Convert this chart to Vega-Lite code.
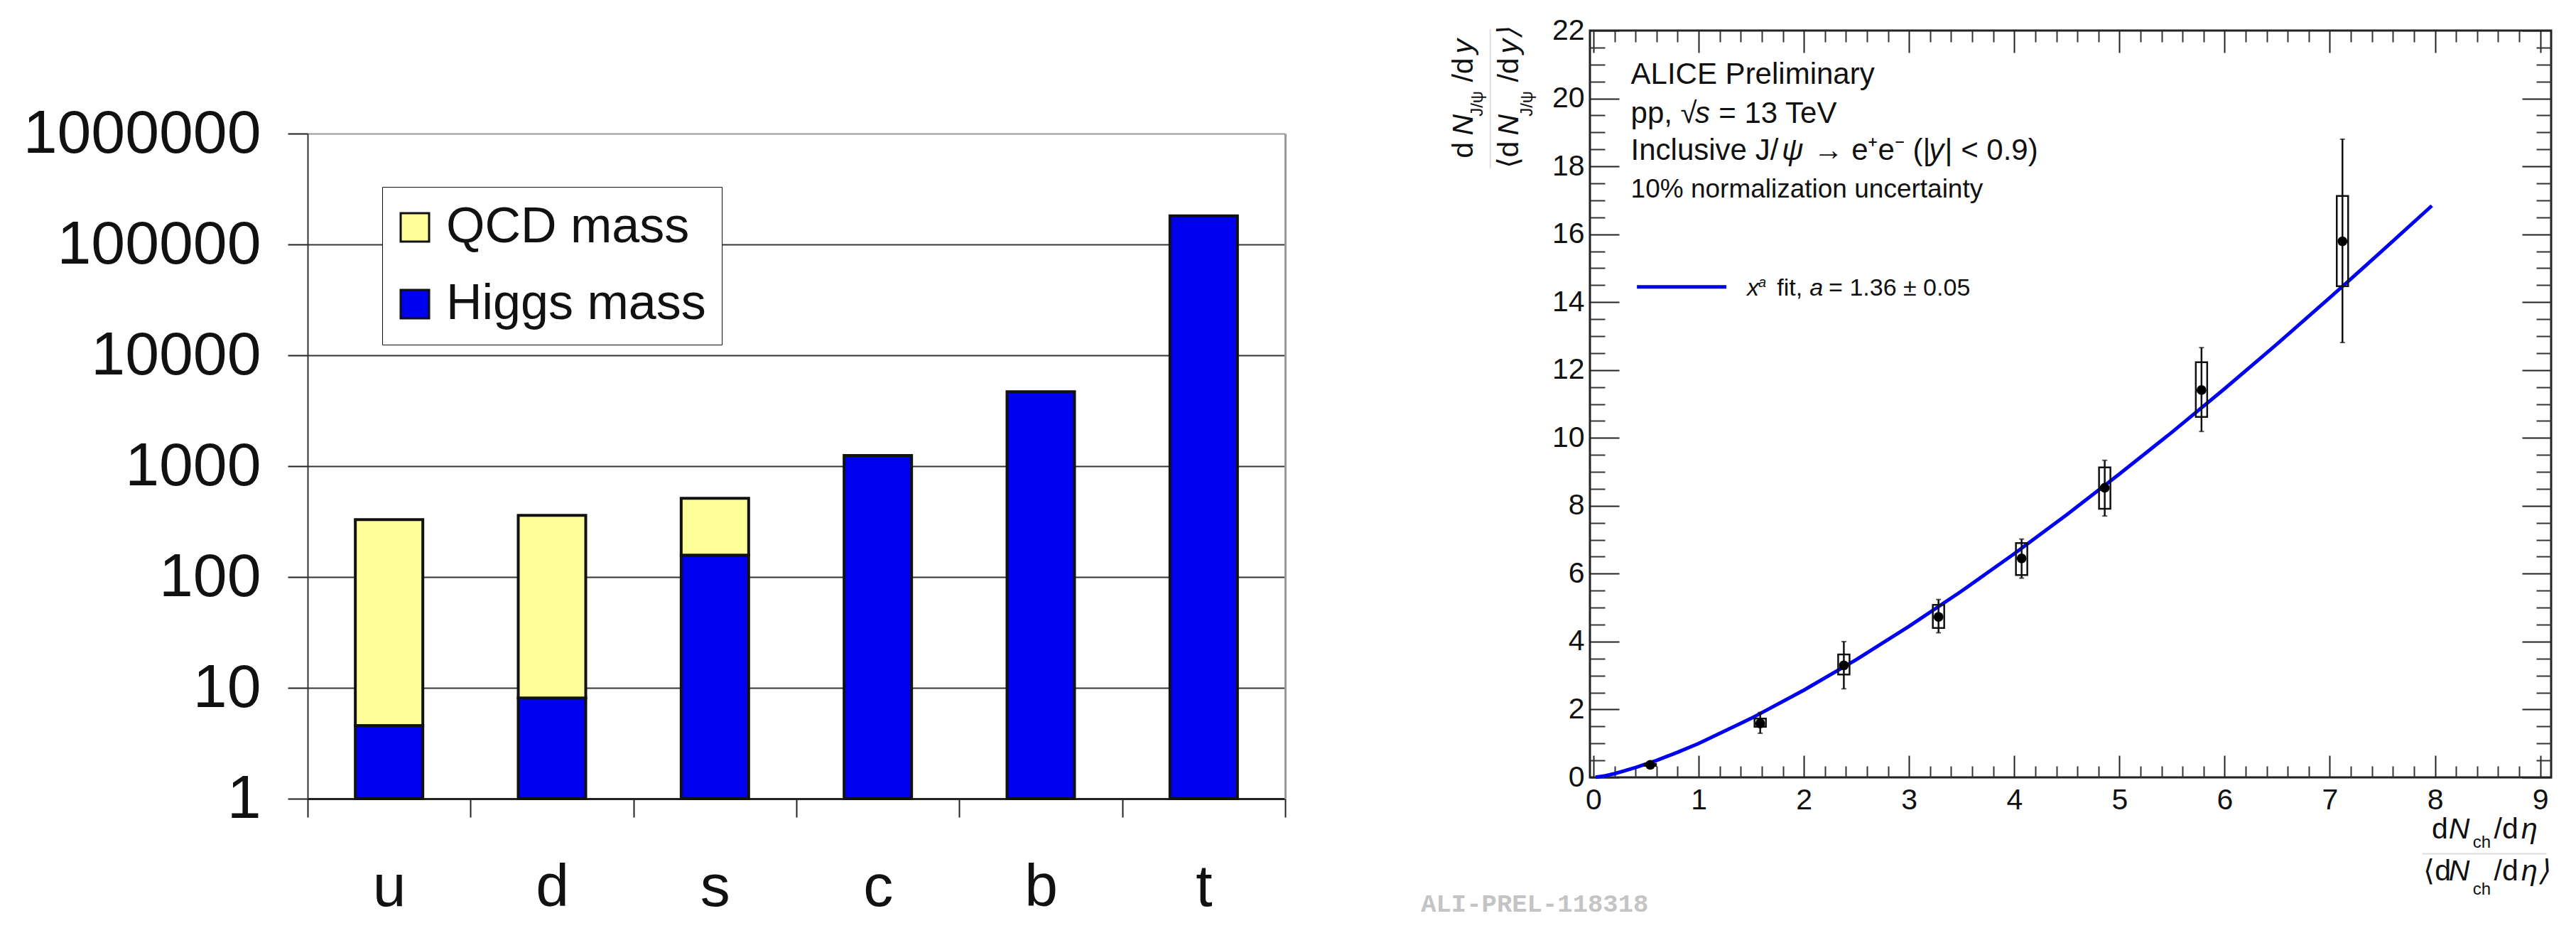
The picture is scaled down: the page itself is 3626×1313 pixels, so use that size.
{"$schema":"https://vega.github.io/schema/vega-lite/v6.json","background":"white","padding":{"left":32,"top":20,"right":20,"bottom":10},"spacing":429,"bounds":"flush","config":{"font":"Liberation Sans","text":{"font":"Liberation Sans","align":"left","baseline":"alphabetic","color":"#111"}},"hconcat":[{"width":1376,"height":1081,"view":{"stroke":null},"data":{"values":[{"quark":"u","part":"QCD mass","low":4.56,"high":329},{"quark":"d","part":"QCD mass","low":8.07,"high":360},{"quark":"s","part":"QCD mass","low":157,"high":513},{"quark":"u","part":"Higgs mass","low":1,"high":4.56},{"quark":"d","part":"Higgs mass","low":1,"high":8.07},{"quark":"s","part":"Higgs mass","low":1,"high":157},{"quark":"c","part":"Higgs mass","low":1,"high":1250},{"quark":"b","part":"Higgs mass","low":1,"high":4700},{"quark":"t","part":"Higgs mass","low":1,"high":181000}]},"resolve":{"axis":{"y":"independent"}},"encoding":{"x":{"field":"quark","type":"nominal","sort":["u","d","s","c","b","t"],"scale":{"paddingInner":0,"paddingOuter":0},"axis":{"title":null,"labelAngle":0,"labelFontSize":84,"labelColor":"#111","labelPadding":58,"tickBand":"extent","tickSize":26,"tickColor":"#222","tickWidth":2,"domainColor":"#222","domainWidth":3}},"y":{"field":"high","type":"quantitative","scale":{"type":"log","domain":[1,1000000],"range":[1081,145],"nice":false},"axis":null},"y2":{"field":"low"},"color":{"field":"part","type":"nominal","scale":{"domain":["QCD mass","Higgs mass"],"range":["#ffff99","#0000f0"]},"legend":{"orient":"none","legendX":105,"legendY":220,"title":null,"labelFontSize":70,"labelFont":"Liberation Sans","labelColor":"#111","labelLimit":500,"labelOffset":9,"symbolOffset":-11,"symbolType":"square","symbolSize":1600,"symbolStrokeColor":"#111","symbolStrokeWidth":3,"rowPadding":38,"padding":22,"strokeColor":"#111","fillColor":"white"}}},"layer":[{"transform":[{"filter":"datum.part === 'QCD mass'"}],"mark":{"type":"bar","width":95,"stroke":"#111","strokeWidth":4},"encoding":{"y":{"field":"high","type":"quantitative","scale":{"type":"log","domain":[1,1000000],"range":[1081,145],"nice":false},"axis":{"title":null,"values":[1,10,100,1000,10000,100000,1000000],"format":"d","labelFontSize":86,"labelLimit":600,"labelColor":"#111","labelPadding":38,"tickSize":28,"tickColor":"#222","tickWidth":2,"domainColor":"#333","domainWidth":2,"grid":true,"gridWidth":2,"gridColor":{"condition":{"test":"datum.value === 1000000","value":"#999999"},"value":"#333333"}}}}},{"transform":[{"filter":"datum.part === 'Higgs mass'"}],"mark":{"type":"bar","width":95,"stroke":"#111","strokeWidth":4},"encoding":{"y":{"field":"high","type":"quantitative","scale":{"type":"log","domain":[1,1000000],"range":[1081,145],"nice":false},"axis":{"orient":"right","title":null,"labels":false,"ticks":false,"grid":false,"domainColor":"#999999","domainWidth":3}}}}]},{"width":1353,"height":1051,"view":{"stroke":"#222","strokeWidth":3},"resolve":{"axis":{"x":"independent","y":"independent"}},"encoding":{"x":{"field":"x","type":"quantitative","scale":{"domain":[0,9.07],"nice":false,"zero":false},"axis":null},"y":{"field":"y","type":"quantitative","scale":{"domain":[0,22],"nice":false,"zero":false},"axis":null}},"layer":[{"data":{"values":[{"x":0.02,"y":0.005},{"x":0.1,"y":0.04},{"x":0.2,"y":0.11},{"x":0.4,"y":0.29},{"x":0.6,"y":0.5},{"x":0.8,"y":0.74},{"x":1,"y":1},{"x":1.5,"y":1.74},{"x":2,"y":2.57},{"x":2.5,"y":3.47},{"x":3,"y":4.45},{"x":3.5,"y":5.49},{"x":4,"y":6.59},{"x":4.5,"y":7.74},{"x":5,"y":8.94},{"x":5.5,"y":10.17},{"x":6,"y":11.45},{"x":6.5,"y":12.77},{"x":7,"y":14.13},{"x":7.5,"y":15.52},{"x":7.97,"y":16.84}]},"mark":{"type":"line","stroke":"#0000f0","strokeWidth":5},"encoding":{"x":{"field":"x","type":"quantitative","scale":{"domain":[0,9.07],"nice":false,"zero":false},"axis":{"title":null,"labels":false,"domain":false,"grid":false,"values":[0.2,0.4,0.6,0.8,1.2,1.4,1.6,1.8,2.2,2.4,2.6,2.8,3.2,3.4,3.6,3.8,4.2,4.4,4.6,4.8,5.2,5.4,5.6,5.8,6.2,6.4,6.6,6.8,7.2,7.4,7.6,7.8,8.2,8.4,8.6,8.8],"tickSize":-16,"tickColor":"#333","tickWidth":2}},"y":{"field":"y","type":"quantitative","scale":{"domain":[0,22],"nice":false,"zero":false},"axis":{"title":null,"labels":false,"domain":false,"grid":false,"values":[0.5,1,1.5,2.5,3,3.5,4.5,5,5.5,6.5,7,7.5,8.5,9,9.5,10.5,11,11.5,12.5,13,13.5,14.5,15,15.5,16.5,17,17.5,18.5,19,19.5,20.5,21,21.5],"tickSize":-21,"tickColor":"#333","tickWidth":2}}}},{"data":{"name":"pts","values":[{"x":0.54,"y":0.37,"errLow":0.3,"errHigh":0.44,"sysLow":0.34,"sysHigh":0.4},{"x":1.585,"y":1.59,"errLow":1.3,"errHigh":1.91,"sysLow":1.49,"sysHigh":1.73},{"x":2.38,"y":3.3,"errLow":2.61,"errHigh":4,"sysLow":3.03,"sysHigh":3.62},{"x":3.28,"y":4.73,"errLow":4.26,"errHigh":5.24,"sysLow":4.4,"sysHigh":5.08},{"x":4.07,"y":6.45,"errLow":5.87,"errHigh":7.02,"sysLow":5.96,"sysHigh":6.9},{"x":4.86,"y":8.53,"errLow":7.7,"errHigh":9.34,"sysLow":7.91,"sysHigh":9.13},{"x":5.78,"y":11.41,"errLow":10.19,"errHigh":12.66,"sysLow":10.62,"sysHigh":12.23},{"x":7.12,"y":15.79,"errLow":12.81,"errHigh":18.8,"sysLow":14.47,"sysHigh":17.13}]},"mark":{"type":"bar","width":16,"orient":"vertical","fill":"transparent","stroke":"#111","strokeWidth":2.5},"encoding":{"x":{"field":"x","type":"quantitative","scale":{"domain":[0,9.07],"nice":false,"zero":false},"axis":{"orient":"top","title":null,"labels":false,"domain":false,"grid":false,"values":[0,1,2,3,4,5,6,7,8,9],"tickSize":-31,"tickColor":"#222","tickWidth":2}},"y":{"field":"sysLow","type":"quantitative","scale":{"domain":[0,22],"nice":false,"zero":false},"axis":{"orient":"right","title":null,"labels":false,"domain":false,"grid":false,"values":[0,2,4,6,8,10,12,14,16,18,20,22],"tickSize":-41,"tickColor":"#222","tickWidth":2}},"y2":{"field":"sysHigh"}}},{"data":{"name":"pts"},"mark":{"type":"rule","stroke":"#111","strokeWidth":2.5},"encoding":{"x":{"field":"x","type":"quantitative","scale":{"domain":[0,9.07],"nice":false,"zero":false},"axis":{"orient":"top","title":null,"labels":false,"domain":false,"grid":false,"values":[0.2,0.4,0.6,0.8,1.2,1.4,1.6,1.8,2.2,2.4,2.6,2.8,3.2,3.4,3.6,3.8,4.2,4.4,4.6,4.8,5.2,5.4,5.6,5.8,6.2,6.4,6.6,6.8,7.2,7.4,7.6,7.8,8.2,8.4,8.6,8.8],"tickSize":-16,"tickColor":"#333","tickWidth":2}},"y":{"field":"errLow","type":"quantitative","scale":{"domain":[0,22],"nice":false,"zero":false},"axis":{"orient":"right","title":null,"labels":false,"domain":false,"grid":false,"values":[0.5,1,1.5,2.5,3,3.5,4.5,5,5.5,6.5,7,7.5,8.5,9,9.5,10.5,11,11.5,12.5,13,13.5,14.5,15,15.5,16.5,17,17.5,18.5,19,19.5,20.5,21,21.5],"tickSize":-21,"tickColor":"#333","tickWidth":2}},"y2":{"field":"errHigh"}}},{"data":{"name":"pts"},"mark":{"type":"tick","orient":"horizontal","size":7,"thickness":2,"color":"#111"},"encoding":{"y":{"field":"errLow","type":"quantitative","scale":{"domain":[0,22],"nice":false,"zero":false},"axis":null}}},{"data":{"name":"pts"},"mark":{"type":"tick","orient":"horizontal","size":7,"thickness":2,"color":"#111"},"encoding":{"y":{"field":"errHigh","type":"quantitative","scale":{"domain":[0,22],"nice":false,"zero":false},"axis":null}}},{"data":{"name":"pts"},"mark":{"type":"point","shape":"circle","filled":true,"size":190,"color":"#000","opacity":1},"encoding":{"x":{"field":"x","type":"quantitative","scale":{"domain":[0,9.07],"nice":false,"zero":false},"axis":{"title":null,"values":[0,1,2,3,4,5,6,7,8,9],"format":"d","labelFontSize":41,"labelColor":"#111","labelPadding":43,"grid":false,"tickSize":-31,"tickColor":"#222","tickWidth":2,"domain":false}},"y":{"field":"y","type":"quantitative","scale":{"domain":[0,22],"nice":false,"zero":false},"axis":{"title":null,"values":[0,2,4,6,8,10,12,14,16,18,20,22],"format":"d","labelFontSize":41,"labelColor":"#111","labelPadding":49,"grid":false,"tickSize":-41,"tickColor":"#222","tickWidth":2,"domain":false}}}},{"data":{"values":[{"x":0.413,"x2":1.264,"y":14.45}]},"mark":{"type":"rule","stroke":"#0000f0","strokeWidth":5},"encoding":{"x2":{"field":"x2"}}},{"data":{"values":[{"x":7.88,"x2":9.06,"y":-2.25}]},"mark":{"type":"rule","stroke":"#dddddd","strokeWidth":2},"encoding":{"x2":{"field":"x2"}}},{"data":{"values":[{"x":-0.981,"y":17.93,"y2":22.04}]},"mark":{"type":"rule","stroke":"#dddddd","strokeWidth":2},"encoding":{"y2":{"field":"y2"}}},{"data":{"values":[{"x":0.355,"y":20.42,"t":"ALICE Preliminary"},{"x":0.355,"y":19.27,"t":"pp, √"},{"x":1.19,"y":19.27,"t":"= 13 TeV"},{"x":0.355,"y":18.2,"t":"Inclusive J/"},{"x":2.09,"y":18.2,"t":"→ e⁺e⁻ (|"},{"x":3.34,"y":18.2,"t":"| < 0.9)"}]},"mark":{"type":"text","fontSize":42},"encoding":{"text":{"field":"t"}}},{"data":{"values":[{"x":0.966,"y":19.27,"t":"s"},{"x":1.79,"y":18.2,"t":"ψ"},{"x":3.19,"y":18.2,"t":"y"}]},"mark":{"type":"text","fontSize":42,"fontStyle":"italic"},"encoding":{"text":{"field":"t"}}},{"data":{"values":[{"x":0.355,"y":17.09,"t":"10% normalization uncertainty"}]},"mark":{"type":"text","fontSize":37},"encoding":{"text":{"field":"t"}}},{"data":{"values":[{"x":1.744,"y":14.2,"t":"fit,"},{"x":2.236,"y":14.2,"t":"= 1.36 ± 0.05"}]},"mark":{"type":"text","fontSize":34},"encoding":{"text":{"field":"t"}}},{"data":{"values":[{"x":1.458,"y":14.2,"t":"x"},{"x":2.055,"y":14.2,"t":"a"}]},"mark":{"type":"text","fontSize":34,"fontStyle":"italic"},"encoding":{"text":{"field":"t"}}},{"data":{"values":[{"x":1.566,"y":14.45,"t":"a"}]},"mark":{"type":"text","fontSize":20,"fontStyle":"italic"},"encoding":{"text":{"field":"t"}}},{"data":{"values":[{"x":7.97,"y":-1.79,"t":"d"},{"x":8.56,"y":-1.79,"t":"/d"},{"x":7.89,"y":-3.04,"t":"⟨d"},{"x":8.56,"y":-3.04,"t":"/d"}]},"mark":{"type":"text","fontSize":41},"encoding":{"text":{"field":"t"}}},{"data":{"values":[{"x":8.13,"y":-1.79,"t":"N"},{"x":8.82,"y":-1.79,"t":"η"},{"x":8.13,"y":-3.04,"t":"N"},{"x":8.82,"y":-3.04,"t":"η⟩"}]},"mark":{"type":"text","fontSize":41,"fontStyle":"italic"},"encoding":{"text":{"field":"t"}}},{"data":{"values":[{"x":8.36,"y":-2.08,"t":"ch"},{"x":8.36,"y":-3.46,"t":"ch"}]},"mark":{"type":"text","fontSize":24},"encoding":{"text":{"field":"t"}}},{"data":{"values":[{"x":-1.151,"y":18.24,"t":"d"},{"x":-1.151,"y":20.48,"t":"/d"},{"x":-0.715,"y":17.93,"t":"⟨d"},{"x":-0.715,"y":20.48,"t":"/d"}]},"mark":{"type":"text","fontSize":41,"angle":270},"encoding":{"text":{"field":"t"}}},{"data":{"values":[{"x":-1.151,"y":18.91,"t":"N"},{"x":-1.151,"y":21.32,"t":"y"},{"x":-0.715,"y":18.91,"t":"N"},{"x":-0.715,"y":21.32,"t":"y⟩"}]},"mark":{"type":"text","fontSize":41,"fontStyle":"italic","angle":270},"encoding":{"text":{"field":"t"}}},{"data":{"values":[{"x":-1.055,"y":19.47,"t":"J/ψ"},{"x":-0.581,"y":19.47,"t":"J/ψ"}]},"mark":{"type":"text","fontSize":24,"angle":270},"encoding":{"text":{"field":"t"}}},{"data":{"values":[{"x":-1.64,"y":-3.96,"t":"ALI-PREL-118318"}]},"mark":{"type":"text","font":"Liberation Mono","fontSize":35.6,"fontWeight":"bold","color":"#c4c4c4"},"encoding":{"text":{"field":"t"}}}]}]}
